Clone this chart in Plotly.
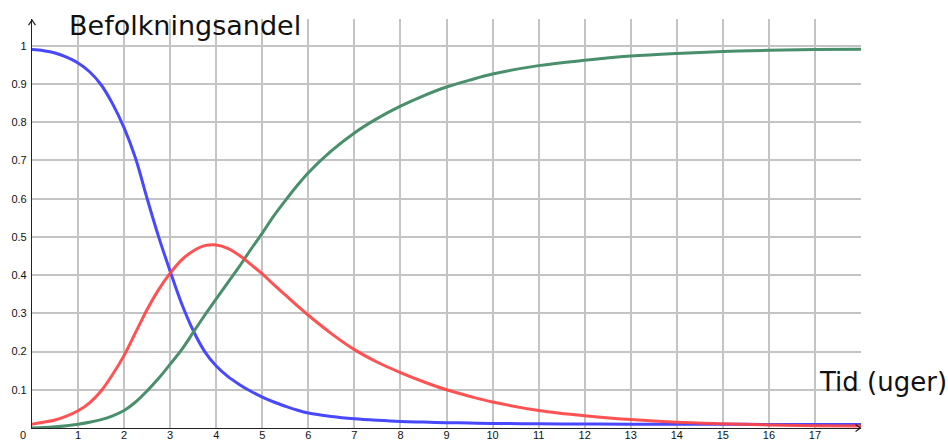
import plotly.graph_objects as go

# Time (weeks)
t = [0, 0.25, 0.5, 0.75, 1, 1.25, 1.5, 1.75, 2, 2.25, 2.5, 2.75, 3, 3.25, 3.5, 3.75, 4, 4.25, 4.5, 4.75,
     5, 5.25, 5.5, 5.75, 6, 6.5, 7, 7.5, 8, 8.5, 9, 9.5, 10, 11, 12, 13, 14, 15, 16, 17, 18]
# Susceptible (blue)
s = [0.99, 0.987, 0.981, 0.970, 0.955, 0.932, 0.898, 0.848, 0.785, 0.705, 0.60, 0.50, 0.41, 0.325, 0.255,
     0.20, 0.162, 0.135, 0.114, 0.096, 0.081, 0.068, 0.057, 0.047, 0.039, 0.030, 0.024, 0.020, 0.017,
     0.0155, 0.014, 0.013, 0.012, 0.011, 0.0105, 0.010, 0.0098, 0.0096, 0.0094, 0.0092, 0.009]
# Infected (red)
i = [0.01, 0.015, 0.021, 0.031, 0.045, 0.066, 0.097, 0.14, 0.19, 0.25, 0.31, 0.362, 0.405, 0.44, 0.463,
     0.477, 0.479, 0.47, 0.452, 0.428, 0.403, 0.375, 0.348, 0.321, 0.295, 0.247, 0.205, 0.172, 0.145,
     0.121, 0.10, 0.083, 0.068, 0.046, 0.032, 0.022, 0.015, 0.011, 0.008, 0.006, 0.005]
# Recovered (green)
r = [0.0, 0.001, 0.003, 0.006, 0.01, 0.015, 0.022, 0.032, 0.046, 0.068, 0.097, 0.13, 0.167, 0.205, 0.25,
     0.295, 0.338, 0.38, 0.422, 0.467, 0.51, 0.555, 0.595, 0.633, 0.668, 0.725, 0.772, 0.81, 0.842,
     0.869, 0.892, 0.91, 0.926, 0.948, 0.962, 0.973, 0.980, 0.985, 0.988, 0.990, 0.991]

x_ticks = list(range(1, 18))
y_ticks = [0.1, 0.2, 0.3, 0.4, 0.5, 0.6, 0.7, 0.8, 0.9, 1.0]
y_ticktext = ["0.1", "0.2", "0.3", "0.4", "0.5", "0.6", "0.7", "0.8", "0.9", "1"]

fig = go.Figure()
fig.add_trace(go.Scatter(x=t, y=s, mode="lines", line=dict(color="#4848FF", width=3, shape="spline"),
                         hoverinfo="skip"))
fig.add_trace(go.Scatter(x=t, y=r, mode="lines", line=dict(color="#4A8F6C", width=3, shape="spline"),
                         hoverinfo="skip"))
fig.add_trace(go.Scatter(x=t, y=i, mode="lines", line=dict(color="#FF4545", width=3, shape="spline"),
                         opacity=0.92, hoverinfo="skip"))

tickfont = dict(family="Liberation Sans, Arial, sans-serif", size=11, color="#111111")

fig.update_layout(
    width=948, height=441,
    margin=dict(l=32, r=87, t=19, b=13),
    paper_bgcolor="white", plot_bgcolor="white",
    showlegend=False,
    xaxis=dict(range=[0, 18], tickvals=x_ticks, ticktext=[str(v) for v in x_ticks],
               showgrid=True, gridcolor="#C4C4C4", gridwidth=1.6, zeroline=False,
               showline=True, linecolor="#222222", linewidth=1.2, ticks="",
               tickfont=tickfont, ticklabelstandoff=-3, automargin=False),
    yaxis=dict(range=[0, 1.07], tickvals=y_ticks, ticktext=y_ticktext,
               showgrid=True, gridcolor="#C4C4C4", gridwidth=1.6, zeroline=False,
               showline=True, linecolor="#222222", linewidth=1.2, ticks="",
               tickfont=tickfont, ticklabelstandoff=2, automargin=False),
    annotations=[
        dict(text="Befolkningsandel", xref="paper", yref="paper", x=0.0425, y=0.983,
             xanchor="left", yanchor="middle", showarrow=False,
             font=dict(family="DejaVu Sans, sans-serif", size=27, color="#111111")),
        dict(text="Tid (uger)", xref="paper", yref="paper", x=0.947, y=0.113,
             xanchor="left", yanchor="middle", showarrow=False,
             font=dict(family="DejaVu Sans, sans-serif", size=26, color="#111111")),
        dict(text="0", xref="x", yref="paper", x=0, y=0, xshift=-9, yshift=1,
             xanchor="center", yanchor="top", showarrow=False, font=tickfont),
    ],
    shapes=[
        dict(type="path", xref="paper", yref="paper", xsizemode="pixel", ysizemode="pixel",
             xanchor=0, yanchor=1.067 / 1.07, path="M -3.5,-5 L 0,0 L 3.5,-5",
             line=dict(color="#222222", width=1.2)),
        dict(type="path", xref="paper", yref="paper", xsizemode="pixel", ysizemode="pixel",
             xanchor=17.99 / 18, yanchor=0, path="M -5,3.5 L 0,0 L -5,-3.5",
             line=dict(color="#222222", width=1.2)),
    ],
)

fig.write_html("out.html", config={"displayModeBar": False},
               post_script="document.body.style.margin='0';document.body.style.overflow='hidden';")
